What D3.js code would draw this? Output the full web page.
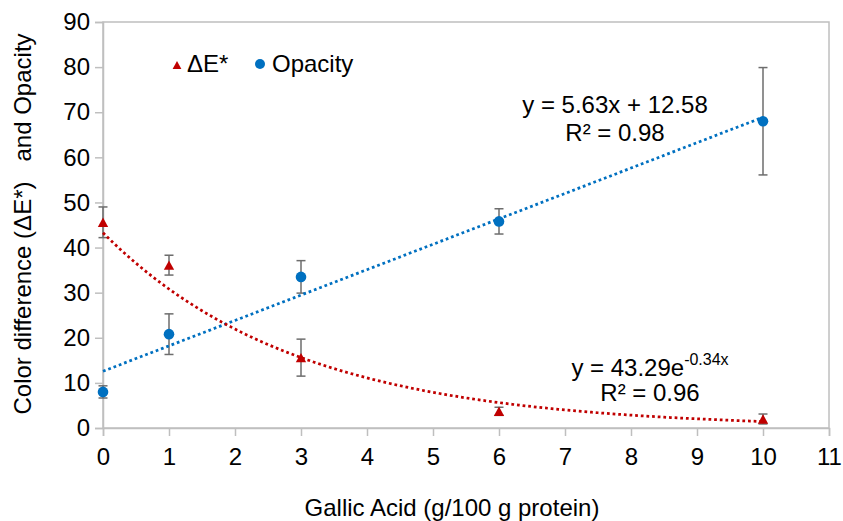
<!DOCTYPE html>
<html>
<head>
<meta charset="utf-8">
<script src="https://cdn.jsdelivr.net/npm/d3@7"></script>
<style>
    body { margin: 0; background: #fff; }
    text { font-family: "Liberation Sans", Arial, sans-serif; fill: #000; }
</style>
</head>
<body>
<div id="chart"></div>
<script>
// Gallic acid dose (g/100 g protein)
const doses = [0, 1, 3, 6, 10];
// Colour difference and its error (+/-)
const deltaE = [45.6, 36.1, 15.6, 3.7, 2.0];
const deltaEErr = [3.4, 2.2, 4.1, 0.9, 1.1];
// Opacity and its error (+/-)
const opacity = [8.0, 20.8, 33.5, 45.8, 68.0];
const opacityErr = [1.35, 4.5, 3.6, 2.8, 11.9];
// Trendline coefficients as printed on the chart
const linFit = { slope: 5.63, intercept: 12.58 };
const expFit = { a: 43.29, b: -0.34 };
const xTicks = d3.range(0, 12);
const yTicks = d3.range(0, 100, 10);

const width = 843, height = 521;
const margin = { top: 22, right: 14, bottom: 93, left: 103 };
const red = '#c00000', blue = '#0070c0', axisGrey = '#bfbfbf', errGrey = '#6d6d6d';

const svg = d3.select('#chart').append('svg')
    .attr('width', width)
    .attr('height', height);

const x = d3.scaleLinear().domain([0, 11]).range([margin.left, width - margin.right]);
const y = d3.scaleLinear().domain([0, 90]).range([height - margin.bottom, margin.top]);

// plot area border
svg.append('rect')
    .attr('x', x(0)).attr('y', y(90))
    .attr('width', x(11) - x(0)).attr('height', y(0) - y(90))
    .attr('fill', 'none').attr('stroke', axisGrey).attr('stroke-width', 1.5);

// y axis
const yAxis = svg.append('g')
    .attr('transform', `translate(${x(0)},0)`)
    .call(d3.axisLeft(y).tickValues(yTicks).tickSize(8).tickPadding(5));
// x axis
const xAxis = svg.append('g')
    .attr('transform', `translate(0,${y(0)})`)
    .call(d3.axisBottom(x).tickValues(xTicks).tickSize(8).tickPadding(12));
[xAxis, yAxis].forEach((g) => {
    g.select('.domain').attr('stroke', axisGrey).attr('stroke-width', 1.5);
    g.selectAll('.tick line').attr('stroke', axisGrey).attr('stroke-width', 1.5);
    g.selectAll('.tick text').attr('font-size', 24).attr('fill', '#000')
        .style('font-family', '"Liberation Sans", Arial, sans-serif');
});

// axis titles
svg.append('text')
    .attr('x', 452).attr('y', 516)
    .attr('text-anchor', 'middle').attr('font-size', 24)
    .text('Gallic Acid (g/100 g protein)');
svg.append('text')
    .attr('transform', 'translate(31,224) rotate(-90)')
    .attr('text-anchor', 'middle').attr('font-size', 24)
    .style('white-space', 'pre')
    .text('Color difference (\u0394E*)   and Opacity');

// error bars
const drawErrors = (vals, errs) => {
    const g = svg.append('g').attr('stroke', errGrey).attr('stroke-width', 1.5);
    doses.forEach((d, i) => {
        const top = y(vals[i] + errs[i]), bot = y(Math.max(0, vals[i] - errs[i]));
        g.append('line').attr('x1', x(d)).attr('x2', x(d)).attr('y1', top).attr('y2', bot);
        g.append('line').attr('x1', x(d) - 4.5).attr('x2', x(d) + 4.5).attr('y1', top).attr('y2', top);
        g.append('line').attr('x1', x(d) - 4.5).attr('x2', x(d) + 4.5).attr('y1', bot).attr('y2', bot);
    });
};
drawErrors(deltaE, deltaEErr);
drawErrors(opacity, opacityErr);

// trendlines (dotted), from the fitted equations shown on the chart
const trendX = d3.range(0, 10.001, 0.1);
const line = d3.line().x((d) => x(d[0])).y((d) => y(d[1]));
svg.append('path')
    .attr('d', line(trendX.map((t) => [t, linFit.slope * t + linFit.intercept])))
    .attr('fill', 'none').attr('stroke', blue).attr('stroke-width', 2.75)
    .attr('stroke-dasharray', '2.75 2.9');
svg.append('path')
    .attr('d', line(trendX.map((t) => [t, expFit.a * Math.exp(expFit.b * t)])))
    .attr('fill', 'none').attr('stroke', red).attr('stroke-width', 2.75)
    .attr('stroke-dasharray', '2.75 2.9');

// markers
const tri = (s) => `M0,${-s}L${s * 1.1},${s}L${-s * 1.1},${s}Z`;
svg.append('g').selectAll('path')
    .data(doses)
    .enter()
    .append('path')
    .attr('d', tri(4.7))
    .attr('transform', (d, i) => `translate(${x(d)},${y(deltaE[i])})`)
    .attr('fill', red);
svg.append('g').selectAll('circle')
    .data(doses)
    .enter()
    .append('circle')
    .attr('cx', (d) => x(d))
    .attr('cy', (d, i) => y(opacity[i]))
    .attr('r', 5.3)
    .attr('fill', blue);

// legend
const legend = svg.append('g');
legend.append('path').attr('d', tri(4)).attr('transform', 'translate(177,65)').attr('fill', red);
legend.append('text').attr('x', 187).attr('y', 72).attr('font-size', 24).text('\u0394E*');
legend.append('circle').attr('cx', 260).attr('cy', 64).attr('r', 5).attr('fill', blue);
legend.append('text').attr('x', 272).attr('y', 72).attr('font-size', 24).text('Opacity');

// trendline equations
svg.append('text').attr('x', 615).attr('y', 113).attr('text-anchor', 'middle').attr('font-size', 24)
    .text(`y = ${linFit.slope}x + ${linFit.intercept}`);
svg.append('text').attr('x', 615).attr('y', 141).attr('text-anchor', 'middle').attr('font-size', 24)
    .text('R\u00b2 = 0.98');
const expEq = svg.append('text').attr('x', 650).attr('y', 376).attr('text-anchor', 'middle').attr('font-size', 24);
expEq.append('tspan').text(`y = ${expFit.a}e`);
expEq.append('tspan').attr('font-size', 16).attr('dy', -11).text(`${expFit.b}x`);
svg.append('text').attr('x', 650).attr('y', 401).attr('text-anchor', 'middle').attr('font-size', 24)
    .text('R\u00b2 = 0.96');
</script>
</body>
</html>
